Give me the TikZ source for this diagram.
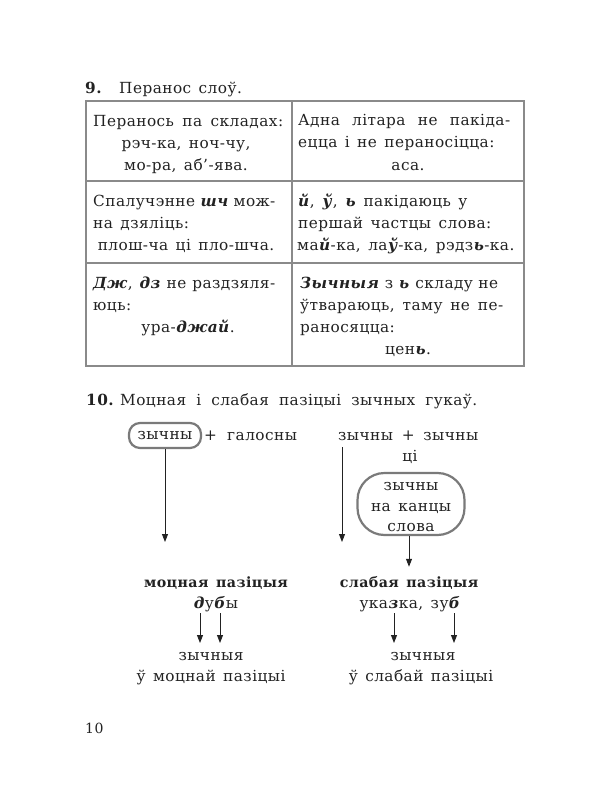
\documentclass[tikz,border=0pt]{standalone}
\usepackage{fontspec}
\setmainfont{DejaVu Serif}[LetterSpace=3,WordSpace=1.4]
\usetikzlibrary{arrows.meta}
\definecolor{ink}{HTML}{222222}
\definecolor{tablegray}{HTML}{8A8A8A}
\definecolor{boxgray}{HTML}{7A7A7A}
\newcommand{\bi}[1]{\textbf{\textit{#1}}}
\newcommand{\mainsize}{\fontsize{15.3bp}{21bp}\selectfont}
\newcommand{\boldsize}{\fontsize{14.2bp}{21bp}\selectfont}
\begin{document}
\begin{tikzpicture}[x=1bp,y=-1bp,
  txt/.style={inner sep=0pt, anchor=base west, text=ink, font=\mainsize},
  ctxt/.style={txt, anchor=base},
  btxt/.style={ctxt, font=\boldsize\bfseries},
  grid/.style={draw=tablegray, line width=2bp},
  pillbox/.style={draw=boxgray, line width=2.2bp, text=ink, font=\mainsize, inner sep=0pt},
  arr/.style={draw=ink, line width=0.9bp, -{Triangle[length=8bp,width=6bp]}}
]
\useasboundingbox (0,0) rectangle (593,787);
% ---- section 9
\node[txt] (n9) at (85,93) {\textbf{9.}};
\node[txt] (t9) at (119,93) {Перанос слоў.};
% table
\draw[grid] (86,101) rectangle (524,366);
\draw[grid] (292,101) -- (292,366);
\draw[grid] (86,181) -- (524,181);
\draw[grid] (86,263) -- (524,263);
% row 1
\node[txt] (a1) at (93,126) {\makebox[190bp][s]{Перанось па складах:}};
\node[ctxt] (a2) at (186,148) {рэч-ка, ноч-чу,};
\node[ctxt] (a3) at (186,170) {мо-ра, аб’-ява.};
\node[txt] (b1) at (298,125) {\makebox[212bp][s]{Адна літара не пакіда-}};
\node[txt] (b2) at (298,147) {ецца і не пераносіцца:};
\node[ctxt] (b3) at (408,170) {аса.};
% row 2
\node[txt] (c1) at (93,206) {\makebox[180bp][s]{Спалучэнне \bi{шч} мож-}};
\node[txt] (c2) at (93,228) {на дзяліць:};
\node[ctxt] (c3) at (186,250) {плош-ча ці пло-шча.};
\node[txt] (d1) at (298,206) {\bi{й}, \bi{ў}, \bi{ь} пакідаюць у};
\node[txt] (d2) at (298,228) {першай частцы слова:};
\node[txt] (d3) at (297,250) {ма\bi{й}-ка, ла\bi{ў}-ка, рэдз\bi{ь}-ка.};
% row 3
\node[txt] (e1) at (93,288) {\makebox[182bp][s]{\bi{Дж}, \bi{дз} не раздзяля-}};
\node[txt] (e2) at (93,310) {юць:};
\node[ctxt] (e3) at (188,332) {ура-\bi{джай}.};
\node[txt] (f1) at (300,288) {\makebox[198bp][s]{\bi{Зычныя} з \bi{ь} складу не}};
\node[txt] (f2) at (300,310) {\makebox[203bp][s]{ўтвараюць, таму не пе-}};
\node[txt] (f3) at (300,332) {раносяцца:};
\node[ctxt] (f4) at (408,354) {цен\bi{ь}.};
% ---- section 10
\node[txt] (n10) at (86,405) {\textbf{10.}};
\node[txt] (t10) at (120,405) {\makebox[357bp][s]{Моцная і слабая пазіцыі зычных гукаў.}};
% left group
\node[pillbox, minimum width=72bp, minimum height=25bp, rounded corners=11bp] (z1) at (165,435.5) {зычны};
\node[ctxt] (plus1) at (210.5,440) {+};
\node[txt] (gal) at (227,440) {галосны};
\coordinate (a1end) at (165,542);
\draw[arr] (z1.south) -- (a1end);
% right group
\node[txt] (zz) at (338,440) {\makebox[140bp][s]{зычны + зычны}};
\node[ctxt] (ci) at (410,461) {ці};
\coordinate (a2start) at (342,447);
\coordinate (a2end) at (342,542);
\draw[arr] (a2start) -- (a2end);
\node[pillbox, minimum width=107bp, minimum height=62bp, rounded corners=27bp] (big) at (411,504) {};
\node[ctxt] (big1) at (411,490) {зычны};
\node[ctxt] (big2) at (411,511) {на канцы};
\node[ctxt] (big3) at (411,531) {слова};
% positions
\node[btxt] (mp) at (216,587) {моцная пазіцыя};
\node[ctxt] (dub) at (216,608) {\bi{д}у\bi{б}ы};
\node[btxt] (sp) at (409,587) {слабая пазіцыя};
\node[ctxt] (uk) at (410,608) {ука\bi{з}ка, зу\bi{б}};
\draw[arr, shorten >=9bp] (big.south -| sp) -- (sp.north);
\node[ctxt] (zm) at (211,660) {зычныя};
\node[ctxt] (zm2) at (211,681) {ў моцнай пазіцыі};
\node[ctxt] (zs) at (423,660) {зычныя};
\node[ctxt] (zs2) at (421,681) {ў слабай пазіцыі};
\draw[arr] (200,613) -- (200,643);
\draw[arr] (220,613) -- (220,643);
\draw[arr] (394,613) -- (394,643);
\draw[arr] (454,613) -- (454,643);
% page number
\node[txt, font=\fontsize{14bp}{16bp}\selectfont] (pg) at (85,733) {10};
\end{tikzpicture}
\end{document}
